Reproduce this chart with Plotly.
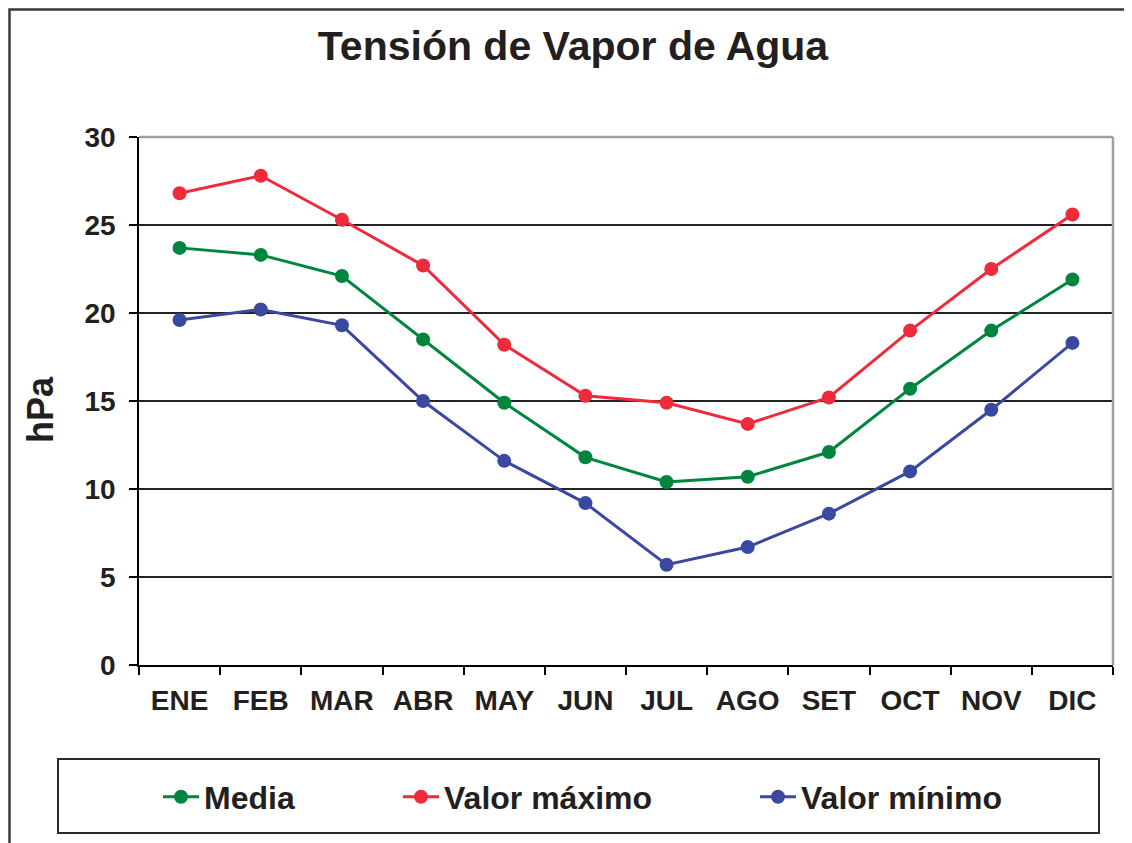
import plotly.graph_objects as go

months = ["ENE", "FEB", "MAR", "ABR", "MAY", "JUN", "JUL", "AGO", "SET", "OCT", "NOV", "DIC"]
media = [23.7, 23.3, 22.1, 18.5, 14.9, 11.8, 10.4, 10.7, 12.1, 15.7, 19.0, 21.9]
maximo = [26.8, 27.8, 25.3, 22.7, 18.2, 15.3, 14.9, 13.7, 15.2, 19.0, 22.5, 25.6]
minimo = [19.6, 20.2, 19.3, 15.0, 11.6, 9.2, 5.7, 6.7, 8.6, 11.0, 14.5, 18.3]
y_ticks = [0, 5, 10, 15, 20, 25, 30]

title_text = "Tensión de Vapor de Agua"
y_title = "hPa"

C_GREEN = "#00853e"
C_RED = "#ee2b3b"
C_BLUE = "#3b48a0"
TXT = "#231f20"
FONT = "Liberation Sans, Arial, sans-serif"

OFF = 8  # page body margin
W, H = 1132 - OFF, 843 - OFF
# plot area in page pixels: x 139..1113, y 137..665
L = 139 - OFF
T = 137 - OFF
R = W - (1113 - OFF)
B = H - (665 - OFF)
PW, PH = W - L - R, H - T - B


def px(x):
    return (x - OFF - L) / PW


def py(y):
    return (H - B - (y - OFF)) / PH


def bold(size):
    return dict(family=FONT, size=size, color=TXT, weight="bold")


fig = go.Figure()
series = [("Media", media, C_GREEN, "legend"),
          ("Valor máximo", maximo, C_RED, "legend2"),
          ("Valor mínimo", minimo, C_BLUE, "legend3")]
for name, vals, col, lg in series:
    fig.add_trace(go.Scatter(
        x=months, y=vals, name=name, mode="lines+markers",
        line=dict(color=col, width=3),
        marker=dict(color=col, size=14),
        legend=lg,
    ))

leg_common = dict(orientation="h", yanchor="middle", xanchor="left",
                  bgcolor="rgba(0,0,0,0)", borderwidth=0, font=bold(32),
                  itemwidth=36)
fig.update_layout(
    width=W, height=H,
    margin=dict(l=L, r=R, t=T, b=B),
    paper_bgcolor="white", plot_bgcolor="white",
    font=dict(family=FONT, color=TXT),
    title=dict(text=title_text, x=(573 - OFF) / W, xanchor="center",
               y=1 - (46 - OFF) / H, yanchor="middle", yref="container",
               font=bold(41)),
    legend=dict(x=px(158), y=py(797), **leg_common),
    legend2=dict(x=px(398), y=py(797), **leg_common),
    legend3=dict(x=px(755), y=py(797), **leg_common),
    showlegend=True,
)
fig.update_xaxes(
    type="category", range=[-0.5, 11.5],
    showline=True, linecolor="black", linewidth=1.5,
    ticks="outside", tickson="boundaries", ticklen=8, tickcolor="black", tickwidth=1.5,
    showgrid=False, ticklabelstandoff=10,
    tickfont=bold(28),
)
fig.update_yaxes(
    range=[0, 30], tickvals=y_ticks,
    showline=True, linecolor="black", linewidth=1.5,
    ticks="outside", ticklen=8, tickcolor="black", tickwidth=1.5,
    showgrid=True, gridcolor="#222222", gridwidth=1.5,
    zeroline=False, ticklabelstandoff=8,
    tickfont=bold(28),
)

fig.add_annotation(text=y_title, xref="paper", yref="paper",
                   x=px(40), y=py(410), textangle=-90, showarrow=False,
                   xanchor="center", yanchor="middle",
                   font=bold(36))

shapes = [
    # outer chart frame
    dict(type="rect", xref="paper", yref="paper", x0=px(9.5), x1=px(1160),
         y0=py(870), y1=py(9.5), line=dict(color="#3a3a3a", width=2.5)),
    # plot area border top/right (gray)
    dict(type="line", xref="paper", yref="paper", x0=0, x1=1, y0=1, y1=1,
         line=dict(color="#a0a0a0", width=2.5)),
    dict(type="line", xref="paper", yref="paper", x0=1, x1=1, y0=0, y1=1,
         line=dict(color="#a0a0a0", width=2.5)),
    # legend box
    dict(type="rect", xref="paper", yref="paper", x0=px(58), x1=px(1099),
         y0=py(833), y1=py(759), line=dict(color="#2a2a2a", width=2)),
]
fig.update_layout(shapes=shapes)

fig.write_html("out.html")
